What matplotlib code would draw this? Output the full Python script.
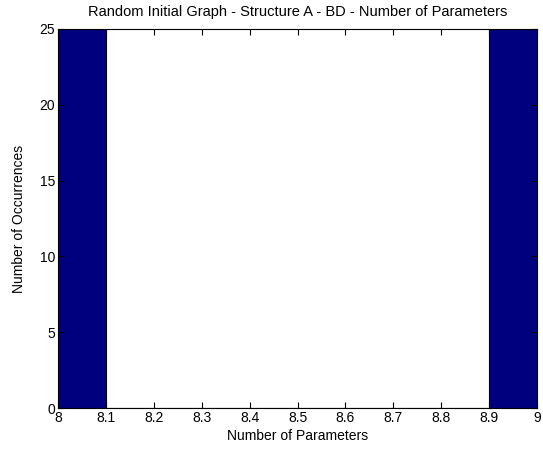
import numpy as np
import matplotlib.pyplot as plt

plt.rcParams['font.family'] = ['Liberation Sans', 'DejaVu Sans']
plt.rcParams['font.size'] = 10

# histogram bins over the parameter count and the occurrences in each
bin_edges = [8.0, 8.1, 8.2, 8.3, 8.4, 8.5, 8.6, 8.7, 8.8, 8.9, 9.0]
counts = [25, 0, 0, 0, 0, 0, 0, 0, 0, 25]
xticks = [8, 8.1, 8.2, 8.3, 8.4, 8.5, 8.6, 8.7, 8.8, 8.9, 9]
yticks = [0, 5, 10, 15, 20, 25]

fig = plt.figure(figsize=(5.43, 4.5), dpi=100)
ax = fig.add_axes([0.1068, 0.0933, 0.8822, 0.8423])

left = np.array(bin_edges[:-1])
width = np.diff(bin_edges)
ax.bar(left, counts, width=width, align='edge', color='#00007f',
       edgecolor='black', linewidth=0.8)

ax.set_xlim(8, 9)
ax.set_ylim(0, 25)
ax.set_xticks(xticks)
ax.set_xticklabels([f'{t:g}' for t in xticks])
ax.set_yticks(yticks)
ax.tick_params(direction='in', top=True, right=True, length=4, pad=2)
for s in ax.spines.values():
    s.set_linewidth(0.8)

ax.set_title('Random Initial Graph - Structure A - BD - Number of Parameters',
             fontsize=10.5, pad=9)
ax.set_xlabel('Number of Parameters', labelpad=3)
ax.set_ylabel('Number of Occurrences', labelpad=10)

fig.savefig('out.png', dpi=100)
